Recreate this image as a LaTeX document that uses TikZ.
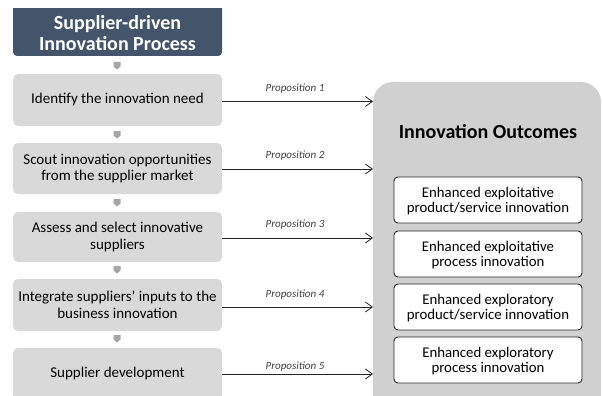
\documentclass[tikz,border=0pt]{standalone}
\usepackage{fontspec}
\setmainfont{Carlito}
\usetikzlibrary{arrows.meta}
\definecolor{titleblue}{HTML}{44546A}
\definecolor{stepgray}{HTML}{D9D9D9}
\definecolor{outgray}{HTML}{D0D0D0}
\definecolor{chevgray}{HTML}{A6A6A6}
\definecolor{linegray}{HTML}{262626}
\tikzset{
  x=1pt, y=-1pt,
  stepbox/.style={fill=stepgray, rounded corners=5pt, draw=none},
  steptext/.style={align=center, font=\fontsize{15}{16.5}\selectfont, text=black},
  outbox/.style={draw=black!85, line width=0.9pt, fill=white, rounded corners=4pt},
  outtext/.style={align=center, font=\fontsize{14.8}{15}\selectfont, text=black},
  proplabel/.style={font=\itshape\fontsize{11}{12}\selectfont, text=black!75},
  propline/.style={draw=linegray, line width=0.8pt, -{Straight Barb[length=7pt,width=10pt,line width=0.8pt]}},
  chev/.style={fill=chevgray, draw=none}
}
\begin{document}
\begin{tikzpicture}
\useasboundingbox (0,0) rectangle (603,396);
\begin{scope}
\clip (0,0) rectangle (603,396);
% process heading, its top edge cut flat
\begin{scope}
\clip (0,9) rectangle (603,60);
\path[fill=titleblue, rounded corners=4pt] (13,-10) rectangle (222,56);
\end{scope}
\node[align=center, text=white, font=\bfseries\fontsize{20}{21}\selectfont] (title) at (117.5,33) {Supplier-driven\\Innovation Process};
% process steps
\path[stepbox] (13,74) rectangle (222,126);
\path[stepbox] (13,143) rectangle (222,194);
\path[stepbox] (13,212) rectangle (222,262);
\path[stepbox] (13,279) rectangle (222,331);
\path[stepbox] (13,348) rectangle (222,400);
\node[steptext] (s1) at (117.5,100) {Identify the innovation need};
\node[steptext] (s2) at (117.5,168.5) {Scout innovation opportunities\\from the supplier market};
\node[steptext] (s3) at (117.5,237) {Assess and select innovative\\suppliers};
\node[steptext] (s4) at (117.5,305) {Integrate suppliers’ inputs to the\\business innovation};
\node[steptext] (s5) at (117.5,373) {Supplier development};
\coordinate (e1) at (222,101.5);
\coordinate (e2) at (222,169);
\coordinate (e3) at (222,238);
\coordinate (e4) at (222,307);
\coordinate (e5) at (222,374);
% small downward chevrons between steps
\foreach \yy in {62,131,199,266,335}{
  \path[chev] (113.5,\yy) -- (120.5,\yy) -- (120.5,\yy+4.5) -- (117,\yy+7.5) -- (113.5,\yy+4.5) -- cycle;
}
% outcomes panel
\path[fill=outgray, rounded corners=20pt] (373,82) rectangle (601,420);
\node[font=\bfseries\fontsize{20}{22}\selectfont] (otitle) at (488,132) {Innovation Outcomes};
\path[outbox] (394,177) rectangle (582,223);
\path[outbox] (394,231) rectangle (582,277);
\path[outbox] (394,284) rectangle (582,330);
\path[outbox] (394,337) rectangle (582,383);
\node[outtext] (o1) at (488,201) {Enhanced exploitative\\product/service innovation};
\node[outtext] (o2) at (488,255) {Enhanced exploitative\\process innovation};
\node[outtext] (o3) at (488,308) {Enhanced exploratory\\product/service innovation};
\node[outtext] (o4) at (488,361) {Enhanced exploratory\\process innovation};
\coordinate (t1) at (373,101.5);
\coordinate (t2) at (373,169);
\coordinate (t3) at (373,238);
\coordinate (t4) at (373,307);
\coordinate (t5) at (373,374);
% propositions
\foreach \i in {1,...,5}{
  \draw[propline] (e\i) -- (t\i);
}
\node[proplabel] (p1) at (295,89) {Proposition 1};
\node[proplabel] (p2) at (295,156) {Proposition 2};
\node[proplabel] (p3) at (295,225) {Proposition 3};
\node[proplabel] (p4) at (295,295) {Proposition 4};
\node[proplabel] (p5) at (295,367) {Proposition 5};
\end{scope}
\end{tikzpicture}
\end{document}
